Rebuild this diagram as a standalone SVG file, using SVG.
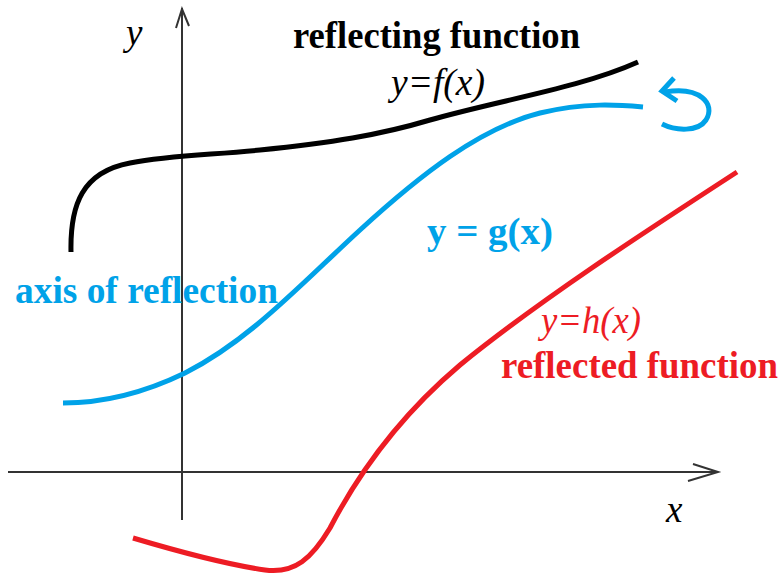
<svg xmlns="http://www.w3.org/2000/svg" width="782" height="578" viewBox="0 0 782 578">
<style>
.t{font-family:"Liberation Serif","Times New Roman",serif;font-size:37px}
.b{font-weight:bold}
.i{font-style:italic}
.ax{stroke:#333;stroke-width:2;fill:none}
.c{fill:none;stroke-width:5;stroke-linecap:butt;stroke-linejoin:round}
</style>
<rect width="782" height="578" fill="#fff"/>
<g id="connectors">
<g id="axes">
<line class="ax" x1="182" y1="8" x2="182" y2="520"/>
<polyline class="ax" points="176,28 182,9 189,26"/>
<line class="ax" x1="8" y1="472" x2="718" y2="472"/>
<polyline class="ax" points="693,464 718,472 688,481"/>
</g>
<path id="f" class="c" stroke="#000" d="M71,252 C70,205 82,172 130,163 C170,155 210,155 260,150 C330,143 380,135 430,120 C500,100 580,88 638,62"/>
<path id="g" class="c" stroke="#00A2E8" d="M63,403 C110,403 150,390 185,373 C250,340 300,285 360,230 C420,175 480,128 540,113 C585,102 620,105 643,107"/>
<path id="h" class="c" stroke="#ED1C24" d="M133,538 C180,552 230,565 265,570 C295,574 312,558 330,528 C355,480 395,420 460,365 C540,300 640,235 737,172"/>
<g id="curl" fill="none" stroke="#00A2E8" stroke-width="5">
<path d="M665,92 C700,86 716,104 706,120 C698,132 676,131 662,124"/>
<polyline points="674,78 662,91 677,101" stroke-linejoin="miter"/>
</g>
</g>
<g id="labels">
<text class="t i" x="126" y="45" font-size="30">y</text>
<text class="t b" x="293" y="48" textLength="287" lengthAdjust="spacingAndGlyphs">reflecting function</text>
<text class="t i" x="391" y="95" textLength="94" lengthAdjust="spacingAndGlyphs">y=f(x)</text>
<text class="t b" x="427" y="244" fill="#00A2E8" textLength="126" lengthAdjust="spacingAndGlyphs">y = g(x)</text>
<text class="t b" x="15" y="303" fill="#00A2E8" textLength="263" lengthAdjust="spacingAndGlyphs">axis of reflection</text>
<text class="t i" x="541" y="333" fill="#ED1C24" textLength="100" lengthAdjust="spacingAndGlyphs">y=h(x)</text>
<text class="t b" x="501" y="378" fill="#ED1C24" textLength="277" lengthAdjust="spacingAndGlyphs">reflected function</text>
<text class="t i" x="666" y="522" font-size="30">x</text>
</g>
</svg>
